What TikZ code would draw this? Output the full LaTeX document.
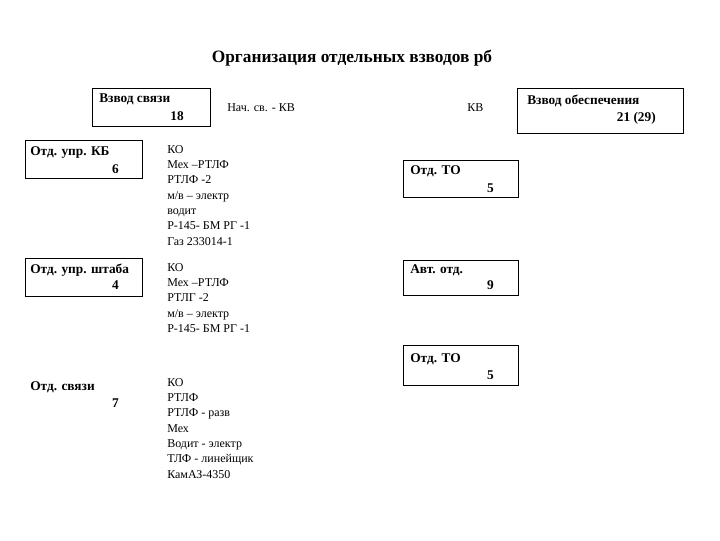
\documentclass[tikz,border=0pt]{standalone}
\usepackage{fontspec}
\setmainfont{Liberation Serif}
\begin{document}
\begin{tikzpicture}[x=0.75pt,y=-0.75pt,
  box/.style={draw,line width=0.7pt,inner sep=0pt},
  lb/.style={anchor=west,font=\fontsize{10}{12}\selectfont\bfseries,inner sep=0pt},
  nm/.style={anchor=east,font=\fontsize{10}{12}\selectfont\bfseries,inner sep=0pt},
  tx/.style={anchor=north west,align=left,font=\fontsize{9}{11.5}\selectfont,inner sep=0pt}]
\useasboundingbox (0,0) rectangle (720,540);
\node[font=\fontsize{13}{15}\selectfont\bfseries] (title) at (352,58) {Организация отдельных взводов рб};
% boxes
\draw[box] (92,88) rectangle (210,126);
\node[lb] (l1) at (99,99) {Взвод связи}; \node[nm] (n1) at (184,116) {18};
\node[tx,anchor=west] (t1) at (227,108) {Нач. св. - КВ};
\node[tx,anchor=west] (t2) at (467,108) {КВ};
\draw[box] (517,88) rectangle (683,133);
\node[lb] (l2) at (527,101) {Взвод обеспечения}; \node[nm] (n2) at (656,118) {21 (29)};
\draw[box] (25,140) rectangle (142,178);
\node[lb] (l3) at (30,153) {Отд. упр. КБ}; \node[nm] (n3) at (119,169) {6};
\node[tx] (t3) at (167,145) {КО\\Мех –РТЛФ\\РТЛФ -2\\м/в – электр\\водит\\Р-145- БМ РГ -1\\Газ 233014-1};
\draw[box] (25,258) rectangle (142,296);
\node[lb] (l4) at (30,270) {Отд. упр. штаба}; \node[nm] (n4) at (119,285) {4};
\node[tx] (t4) at (167,263) {КО\\Мех –РТЛФ\\РТЛГ -2\\м/в – электр\\Р-145- БМ РГ -1};
\node[lb] (l5) at (30,387) {Отд. связи}; \node[nm] (n5) at (119,403) {7};
\node[tx] (t5) at (167,378) {КО\\РТЛФ\\РТЛФ - разв\\Мех\\Водит - электр\\ТЛФ - линейщик\\КамАЗ-4350};
\draw[box] (403,160) rectangle (518,197);
\node[lb] (l6) at (410,171) {Отд. ТО}; \node[nm] (n6) at (494,188) {5};
\draw[box] (403,260) rectangle (518,295);
\node[lb] (l7) at (410,270) {Авт. отд.}; \node[nm] (n7) at (494,285) {9};
\draw[box] (403,345) rectangle (518,385);
\node[lb] (l8) at (410,359) {Отд. ТО}; \node[nm] (n8) at (494,375) {5};
\end{tikzpicture}
\end{document}
